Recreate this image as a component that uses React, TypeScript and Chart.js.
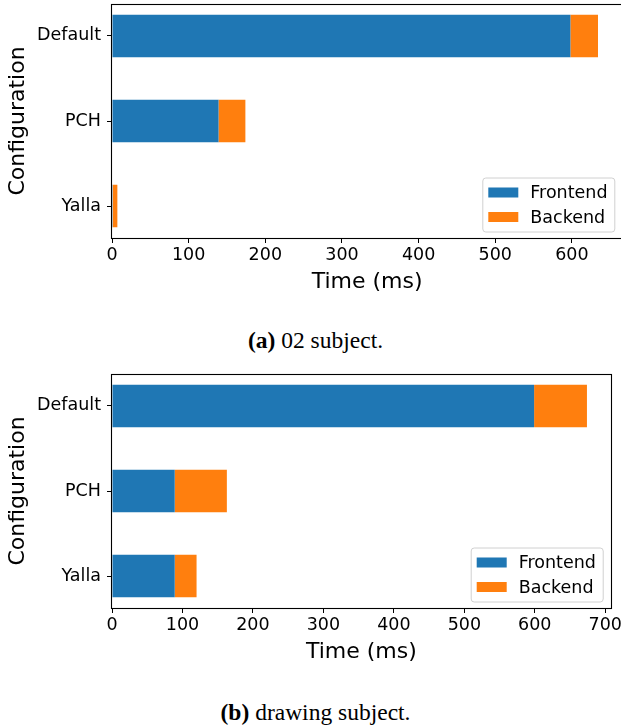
import React, { useEffect, useRef } from "react";
import { Chart, registerables } from "chart.js";

Chart.register(...registerables);

const categories = ["Default", "PCH", "Yalla"];
const seriesNames = ["Frontend", "Backend"];
const colors = ["#1f77b4", "#ff7f0e"];

const frontendA = [598, 139, 1];
const backendA = [36, 35, 6];
const xTicksA = [0, 100, 200, 300, 400, 500, 600];

const frontendB = [599, 89, 89];
const backendB = [75, 74, 31];
const xTicksB = [0, 100, 200, 300, 400, 500, 600, 700];

const FONT = "'DejaVu Sans', sans-serif";

const framePlugin = {
  id: "frame",
  afterDatasetsDraw(chart: any) {
    const { ctx, chartArea: ca } = chart;
    ctx.save();
    ctx.strokeStyle = "#000";
    ctx.lineWidth = 1.1;
    ctx.strokeRect(Math.round(ca.left) - 0.5, Math.round(ca.top) + 0.5, Math.round(ca.right - ca.left) + 1, Math.round(ca.bottom - ca.top));
    ctx.restore();
  },
};

const legendPlugin = {
  id: "innerLegend",
  afterDraw(chart: any) {
    const { ctx, chartArea: ca } = chart;
    const w = 132;
    const h = 54;
    const right = ca.right - 8;
    const bottom = ca.bottom - 6.5;
    const left = right - w;
    const top = bottom - h;
    ctx.save();
    ctx.beginPath();
    (ctx as any).roundRect(left + 0.5, top + 0.5, w, h, 3);
    ctx.fillStyle = "rgba(255,255,255,0.8)";
    ctx.fill();
    ctx.strokeStyle = "#d0d0d0";
    ctx.lineWidth = 1;
    ctx.stroke();
    chart.data.datasets.forEach((ds: any, i: number) => {
      const cy = top + 15 + i * 24.5;
      ctx.fillStyle = ds.backgroundColor;
      ctx.fillRect(left + 6, cy - 5, 30, 10);
      ctx.fillStyle = "#000";
      ctx.font = `17.5px ${FONT}`;
      ctx.textBaseline = "middle";
      ctx.textAlign = "left";
      ctx.fillText(ds.label, left + 48, cy + 1);
    });
    ctx.restore();
  },
};

function BarChart({ frontend, backend, xTicks, width, height, padRight }: any) {
  const ref = useRef<HTMLCanvasElement>(null);
  useEffect(() => {
    const totals = frontend.map((v: number, i: number) => v + backend[i]);
    const xMax = Math.max(...totals) * 1.05;
    const chart = new Chart(ref.current!, {
      type: "bar",
      data: {
        datasets: [frontend, backend].map((arr: number[], k: number) => ({
          label: seriesNames[k],
          data: arr.map((v, i) => ({ x: v, y: i })),
          backgroundColor: colors[k],
          borderWidth: 0,
          categoryPercentage: 1,
          barPercentage: 0.5,
        })),
      },
      options: {
        indexAxis: "y",
        animation: false,
        responsive: false,
        devicePixelRatio: 1,
        layout: { padding: { top: 4, right: padRight, left: 0, bottom: 0 } },
        plugins: { legend: { display: false }, tooltip: { enabled: false } },
        scales: {
          x: {
            type: "linear",
            stacked: true,
            min: 0,
            max: xMax,
            offset: false,
            afterBuildTicks: (s: any) => {
              s.ticks = xTicks.map((v: number) => ({ value: v }));
            },
            afterFit: (s: any) => {
              s.height = 62;
              s.paddingLeft = 0;
              s.paddingRight = 0;
            },
            grid: { offset: false, drawOnChartArea: false, drawTicks: true, tickLength: 5, color: "#000", lineWidth: 1 },
            border: { display: false },
            ticks: { color: "#000", font: { family: FONT, size: 17.5 }, padding: 2, maxRotation: 0, autoSkip: false },
            title: { display: true, text: "Time (ms)", color: "#000", font: { family: FONT, size: 22 }, padding: { top: 0, bottom: 5 } },
          },
          y: {
            type: "linear",
            stacked: true,
            reverse: true,
            offset: false,
            min: -0.375,
            max: 2.375,
            afterBuildTicks: (s: any) => {
              s.ticks = categories.map((_, i) => ({ value: i }));
            },
            afterFit: (s: any) => {
              s.width = 112;
              s.paddingTop = 0;
              s.paddingBottom = 0;
            },
            grid: { offset: false, drawOnChartArea: false, drawTicks: true, tickLength: 5, color: "#000", lineWidth: 1 },
            border: { display: false },
            ticks: {
              color: "#000",
              font: { family: FONT, size: 17.5 },
              padding: 6,
              autoSkip: false,
              callback: (v: any) => categories[v] ?? "",
            },
            title: { display: true, text: "Configuration", color: "#000", font: { family: FONT, size: 22 }, padding: { top: 5, bottom: 0 } },
          },
        },
      } as any,
      plugins: [framePlugin, legendPlugin],
    });
    return () => chart.destroy();
  }, []);
  return <canvas ref={ref} width={width} height={height} style={{ width, height, display: "block" }} />;
}

const captionStyle: React.CSSProperties = {
  position: "absolute",
  left: 0,
  width: 631,
  textAlign: "center",
  fontFamily: "'Liberation Serif', serif",
  fontSize: 23.5,
  color: "#000",
  lineHeight: "28px",
};

export default function App() {
  return (
    <div style={{ position: "absolute", left: 0, top: 0, width: 621, height: 726, overflow: "hidden", background: "#fff" }}>
      <div style={{ position: "absolute", left: 0, top: 0 }}>
        <BarChart frontend={frontendA} backend={backendA} xTicks={xTicksA} width={626} height={300} padRight={3.7} />
      </div>
      <div style={{ ...captionStyle, top: 326 }}>
        <b>(a)</b> 02 subject.
      </div>
      <div style={{ position: "absolute", left: 0, top: 370 }}>
        <BarChart frontend={frontendB} backend={backendB} xTicks={xTicksB} width={621} height={300} padRight={10.3} />
      </div>
      <div style={{ ...captionStyle, top: 698 }}>
        <b>(b)</b> drawing subject.
      </div>
    </div>
  );
}
